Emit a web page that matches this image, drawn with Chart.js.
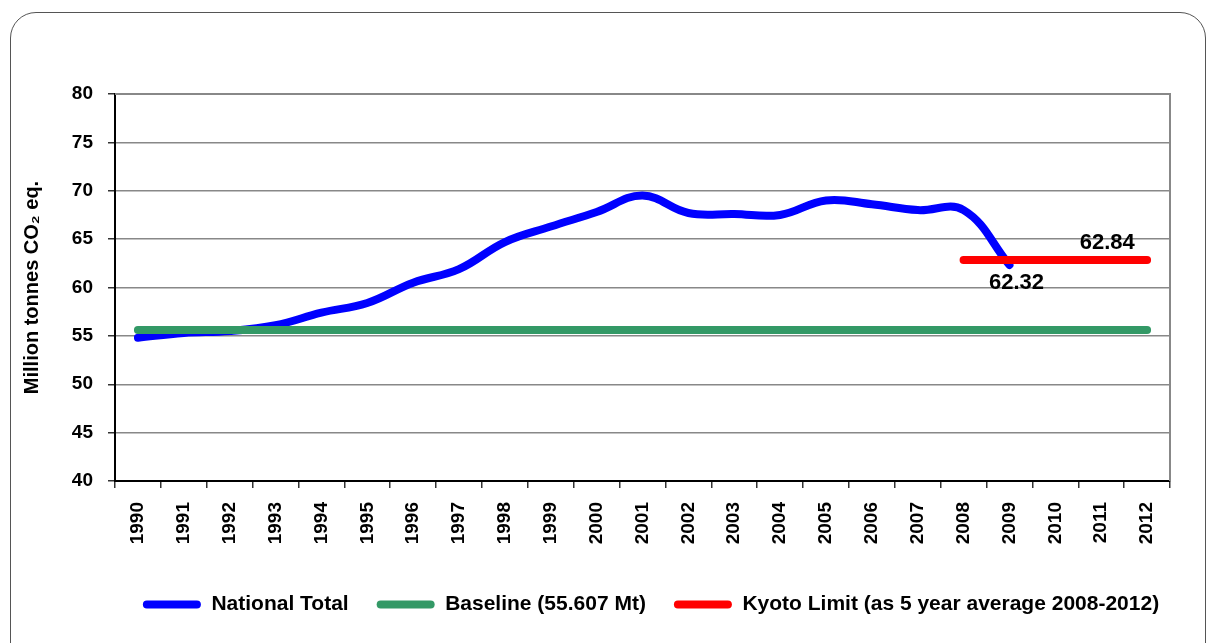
<!DOCTYPE html>
<html>
<head>
<meta charset="utf-8">
<script src="https://cdn.jsdelivr.net/npm/chart.js@4/dist/chart.umd.min.js"></script>
<style>
    html, body { margin: 0; padding: 0; background: #fff; overflow: hidden; }
    #frame { position: absolute; left: 10px; top: 12px; width: 1194px; height: 680px; border: 1.5px solid #555; border-radius: 26px; }
    #wrap { position: absolute; left: 0; top: 0; width: 1207px; height: 643px; }
</style>
</head>
<body>
<div id="frame"></div>
<div id="wrap"><canvas id="emissions"></canvas></div>
<script>
// Data
var years = ['1990', '1991', '1992', '1993', '1994', '1995', '1996', '1997', '1998', '1999', '2000', '2001',
             '2002', '2003', '2004', '2005', '2006', '2007', '2008', '2009', '2010', '2011', '2012'];
var nationalTotal = [54.8, 55.3, 55.5, 56.1, 57.4, 58.4, 60.5, 61.9, 64.7, 66.3, 67.8, 69.5,
                     67.7, 67.6, 67.5, 69.0, 68.6, 68.0, 68.0, 62.32];
var baseline = [55.607, 55.607, 55.607, 55.607, 55.607, 55.607, 55.607, 55.607, 55.607, 55.607, 55.607, 55.607,
                55.607, 55.607, 55.607, 55.607, 55.607, 55.607, 55.607, 55.607, 55.607, 55.607, 55.607];
var kyotoLimit = [null, null, null, null, null, null, null, null, null, null, null, null,
                  null, null, null, null, null, null, 62.84, 62.84, 62.84, 62.84, 62.84];
var yTicks = [40, 45, 50, 55, 60, 65, 70, 75, 80];

var FONT = 'Liberation Sans, Arial, sans-serif';

// Gray frame round the plot area (top + right)
var plotFrame = {
    id: 'plotFrame',
    beforeDatasetsDraw: function(chart) {
        var a = chart.chartArea, ctx = chart.ctx;
        ctx.save();
        ctx.strokeStyle = '#888';
        ctx.lineWidth = 2;
        ctx.beginPath();
        ctx.moveTo(a.left, a.top);
        ctx.lineTo(a.right, a.top);
        ctx.lineTo(a.right, a.bottom);
        ctx.stroke();
        ctx.restore();
    }
};

// Value labels for 2009 and the Kyoto line
var valueLabels = {
    id: 'valueLabels',
    afterDatasetsDraw: function(chart) {
        var ctx = chart.ctx, x = chart.scales.x, y = chart.scales.y;
        ctx.save();
        ctx.font = 'bold 22px ' + FONT;
        ctx.fillStyle = '#000';
        ctx.textAlign = 'center';
        ctx.textBaseline = 'middle';
        ctx.fillText(nationalTotal[19].toFixed(2), x.getPixelForValue(19) + 7, y.getPixelForValue(nationalTotal[19]) + 18);
        ctx.fillText(kyotoLimit[21].toFixed(2), x.getPixelForValue(21) + 6, y.getPixelForValue(kyotoLimit[21]) - 17);
        ctx.restore();
    }
};

// Nudge legend into place
var legendShift = {
    id: 'legendShift',
    afterLayout: function(chart) {
        chart.legend.left += 56;
        chart.legend.right += 56;
        chart.legend.top -= 6;
        chart.legend.bottom -= 6;
    }
};

var ctx = document.getElementById('emissions');

var chart = new Chart(ctx, {
    type: 'line',
    data: {
        labels: years,
        datasets: [
            {
                label: 'National Total',
                data: nationalTotal,
                borderColor: '#0000ff',
                backgroundColor: '#0000ff',
                borderWidth: 8,
                borderCapStyle: 'round',
                tension: 0.4,
                pointRadius: 0,
                order: 3
            },
            {
                label: 'Baseline (55.607 Mt)',
                data: baseline,
                borderColor: '#339966',
                backgroundColor: '#339966',
                borderWidth: 8,
                borderCapStyle: 'round',
                pointRadius: 0,
                order: 2
            },
            {
                label: 'Kyoto Limit (as 5 year average 2008-2012)',
                data: kyotoLimit,
                borderColor: '#ff0000',
                backgroundColor: '#ff0000',
                borderWidth: 8,
                borderCapStyle: 'round',
                pointRadius: 0,
                order: 1
            }
        ]
    },
    options: {
        responsive: true,
        maintainAspectRatio: false,
        animation: false,
        layout: { padding: { left: 20, right: 37, top: 94, bottom: 12 } },
        plugins: {
            tooltip: { enabled: false },
            legend: {
                position: 'bottom',
                labels: {
                    color: '#000',
                    font: { family: FONT, size: 21, weight: 'bold' },
                    boxWidth: 58,
                    boxHeight: 8,
                    useBorderRadius: true,
                    borderRadius: 4,
                    padding: 28,
                    sort: function(a, b) { return a.datasetIndex - b.datasetIndex; },
                    generateLabels: function(chart) {
                        var items = Chart.defaults.plugins.legend.labels.generateLabels(chart);
                        items.forEach(function(it) { it.lineWidth = 0; });
                        return items;
                    }
                }
            }
        },
        scales: {
            x: {
                offset: true,
                grid: { offset: true, drawOnChartArea: false, drawTicks: true, tickLength: 7, color: '#333', lineWidth: 1.5 },
                border: { color: '#000', width: 2 },
                ticks: {
                    color: '#000',
                    font: { family: FONT, size: 19, weight: 'bold' },
                    minRotation: 90,
                    maxRotation: 90,
                    padding: 14,
                    autoSkip: false
                },
                afterFit: function(s) {
                    s.height = 643 - 12 - s.chart.legend.height - 481;
                }
            },
            y: {
                min: 40,
                max: 80,
                afterBuildTicks: function(s) {
                    s.ticks = yTicks.map(function(v) { return { value: v }; });
                },
                grid: { color: '#888', lineWidth: 1.5, tickLength: 7, tickColor: '#333' },
                border: { color: '#000', width: 2 },
                ticks: {
                    color: '#000',
                    font: { family: FONT, size: 19, weight: 'bold' },
                    padding: 15
                },
                title: {
                    display: true,
                    text: 'Million tonnes CO\u2082 eq.',
                    color: '#000',
                    font: { family: FONT, size: 20, weight: 'bold' },
                    padding: 0
                },
                afterFit: function(s) {
                    s.width = 95;
                }
            }
        }
    },
    plugins: [plotFrame, valueLabels, legendShift]
});
</script>
</body>
</html>
